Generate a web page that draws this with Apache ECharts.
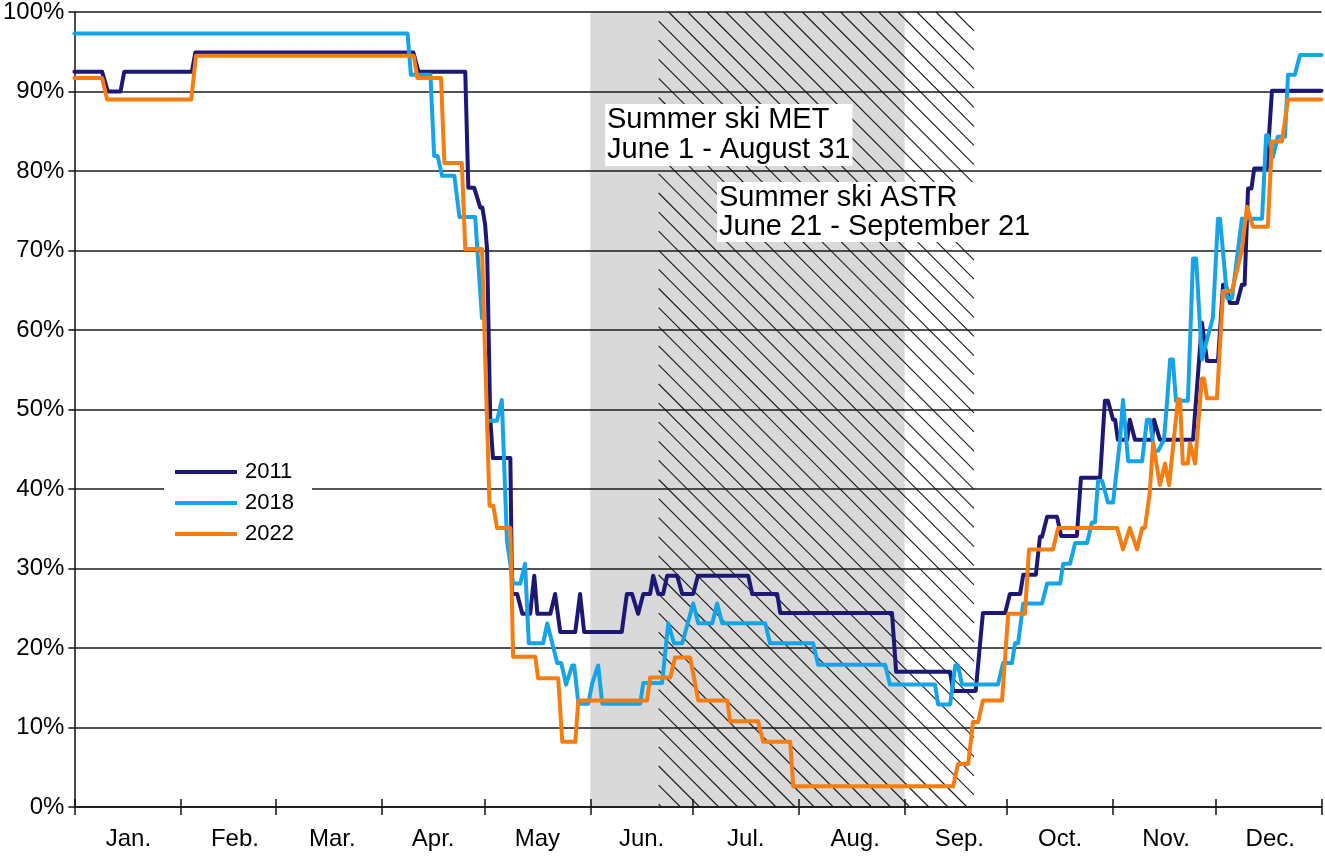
<!DOCTYPE html>
<html>
<head>
<meta charset="utf-8">
<script src="https://cdn.jsdelivr.net/npm/echarts@6/dist/echarts.min.js"></script>
<style>
html,body{margin:0;padding:0;background:#fff;}
#chart{width:1325px;height:859px;}
</style>
</head>
<body>
<div id="chart"></div>
<script>
// ---- Data ----
const months = ['Jan.','Feb.','Mar.','Apr.','May','Jun.','Jul.','Aug.','Sep.','Oct.','Nov.','Dec.'];
const monthStarts = [0,31,59,90,120,151,181,212,243,273,304,334,365];
const monthLabelDays = [15.8,47,75.5,105,135.5,166,196.5,228.5,259,288.5,319.5,350];
const seriesNames = ['2011','2018','2022'];
const bandMET = [151, 243];   // June 1 - August 31
const bandASTR = [171, 263.3]; // June 21 - September 21
const noteMET = 'Summer ski MET\nJune 1 - August 31';
const noteASTR = 'Summer ski ASTR\nJune 21 - September 21';

const s2011 = [
[0,92.5],[8.1,92.5],[9.8,90.0],[13.5,90.0],[14.6,92.5],[34.4,92.5],[35.4,94.9],[99.2,94.9],[100.7,92.5],[114.4,92.5],
[115.3,77.9],[117,77.9],[118.8,75.4],[119.4,75.4],[120.2,73.3],[120.8,70.0],[121.7,49.0],[122.5,43.9],[127.6,43.9],
[128.1,26.8],[129.6,26.8],[131.1,24.3],[133.4,24.3],[134.6,29.1],[135.5,24.3],[139.3,24.3],[140.7,26.8],[142.2,22.0],
[146.6,22.0],[148,26.8],[149.2,22.0],[160.2,22.0],[161.7,26.8],[163.2,26.8],[165,24.3],[166.5,26.8],[168.5,26.8],
[169.4,29.1],[170.9,26.8],[172.3,26.8],[173.5,29.1],[176.4,29.1],[177.9,26.8],[181.1,26.8],[182.5,29.1],[197.2,29.1],
[198.4,26.8],[205.7,26.8],[206.6,24.4],[239.3,24.4],[240.5,17.0],[256.3,17.0],[257.2,14.6],[263.8,14.6],[265.9,24.4],
[272.4,24.4],[273.8,26.8],[276.8,26.8],[277.7,29.2],[281.4,29.2],[282.6,34.0],[283.2,34.0],[284.7,36.5],[287.6,36.5],
[288.8,34.1],[293.4,34.1],[294.6,41.4],[300.2,41.4],[301.6,51.1],[302.5,51.1],[304,48.7],[304.6,48.7],[305.4,46.2],
[308.1,46.2],[308.9,48.7],[310.4,46.2],[315.4,46.2],[316,48.7],[317.7,46.2],[327.4,46.2],[330,60.9],[331.5,56.1],
[334.7,56.1],[336.2,65.7],[337,65.7],[338.2,63.4],[340.3,63.4],[341.7,65.7],[342.5,65.7],[343.5,77.8],[344.5,77.8],
[345.3,80.3],[349,80.3],[350.5,90.1],[365,90.1]
];

const s2018 = [
[0,97.3],[97.5,97.3],[98.5,92.1],[104.2,92.1],[105.3,81.9],[106.3,81.9],[107.6,79.4],[111.2,79.4],[112.7,74.2],
[117.3,74.2],[119.3,61.5],[120.5,null],[121.7,48.6],[123.7,48.6],[125.1,51.2],[125.6,51.2],[126.6,33.5],[127,33.5],
[128.4,28.1],[130.5,28.1],[131.9,30.6],[133,20.6],[137.2,20.6],[138.4,23.1],[141.3,18.1],[142.5,18.1],[143.9,15.4],
[145.7,17.8],[146.3,17.8],[147.5,13.0],[150.4,13.0],[151.6,15.6],[152.1,15.6],[153.3,17.8],[154.5,13.0],[165.6,13.0],
[166.5,15.6],[172,15.6],[173.8,23.1],[175.5,20.6],[177.9,20.6],[181.1,25.6],[182.6,23.1],[186.7,23.1],[188.1,25.6],
[189.6,23.1],[202.2,23.1],[203.6,20.6],[216.2,20.6],[217.7,17.9],[237.3,17.9],[238.7,15.4],[251.9,15.4],[252.8,12.9],
[256.3,12.9],[257.8,17.8],[258.6,17.8],[259.8,15.4],[270.3,15.4],[271.8,18.1],[274.4,18.1],[275.3,20.6],[276.2,20.6],
[277.7,25.6],[283.2,25.6],[284.7,28.1],[288.5,28.1],[289.4,30.6],[291.4,30.6],[292.9,33.2],[296.4,33.2],[297.8,35.8],
[298.7,35.8],[299.6,41.0],[300.8,41.0],[302.5,38.3],[304,38.3],[306,46.0],[306.9,51.2],[307.3,51.2],[308.4,43.5],
[312.5,43.5],[313.9,48.7],[314.8,48.7],[316,44.8],[317.2,44.8],[318.9,46.2],[319.8,51.0],[320.7,56.3],[321.5,56.3],
[322.4,51.1],[325.9,51.1],[327.4,69.0],[328.3,69.0],[330,56.3],[331.5,58.8],[333.2,61.5],[334.7,74.0],[335.3,74.0],
[337.4,64.0],[338.8,64.0],[341.7,74.0],[347.6,74.0],[348.8,84.5],[349.4,84.5],[350.8,81.8],[352.2,84.3],[354.3,84.3],
[355.2,92.1],[357.2,92.1],[358.7,94.6],[365,94.6]
];

const s2022 = [
[0,91.7],[8.1,91.7],[9.6,89.0],[34.2,89.0],[35.6,94.5],[99.3,94.5],[100.4,91.7],[107.3,91.7],[108.3,81.0],[113.4,81.0],
[114.4,70.2],[119.3,70.2],[121.5,37.9],[122.6,37.9],[123.7,35.1],[127.6,35.1],[128.4,18.9],[134.9,18.9],[135.7,16.2],
[141.6,16.2],[142.8,8.2],[146.6,8.2],[147.5,13.4],[167.6,13.4],[168.5,16.3],[174.4,16.3],[175.8,18.8],[180.2,18.8],
[182.6,13.4],[191.1,13.4],[191.9,10.8],[200.1,10.8],[201.6,8.2],[209.5,8.2],[210.4,2.6],[257.2,2.6],[258.6,5.4],
[261.6,5.4],[263,10.7],[264.5,10.7],[265.9,13.4],[271.5,13.4],[273.3,24.3],[278.2,24.3],[279.4,32.4],[286.4,32.4],
[287.9,35.1],[305.2,35.1],[306.9,32.4],[308.9,35.1],[311,32.4],[312.5,35.1],[313.3,35.1],[314.7,39.4],[315.7,45.8],
[317.7,40.5],[319.2,43.2],[320.4,40.5],[323,51.3],[323.6,51.3],[324.4,43.2],[325.9,43.2],[326.5,45.8],[328,43.2],
[328.5,43.2],[330,53.9],[330.6,53.9],[331.5,51.4],[334.4,51.4],[336.2,64.9],[338.8,64.9],[341.7,70.1],[343.2,75.5],
[344.9,73.0],[349.3,73.0],[350.5,83.7],[353.4,83.7],[355.2,89.0],[365,89.0]
];

// ---- Chart ----
const FONT = '"Liberation Sans", Arial, sans-serif';
const colors = ['#1d1873', '#16a4e8', '#f57d12'];

function renderBand(params, api) {
  const p0 = api.coord([api.value(0), 100]);
  const p1 = api.coord([api.value(1), 0]);
  return {type:'rect', shape:{x:p0[0], y:p0[1], width:p1[0]-p0[0], height:p1[1]-p0[1]},
    style:{fill:'#d9d9d9'}};
}
function renderHatch(params, api) {
  const p0 = api.coord([api.value(0), 100]);
  const p1 = api.coord([api.value(1), 0]);
  const x0=p0[0], y0=p0[1], x1=p1[0], y1=p1[1];
  const step = 19.1;
  const kStart = x0 - y0 + 10;
  const n0 = Math.floor(((x0 - y1) - kStart) / step);
  const children = [];
  for (let k = kStart + n0*step; k <= x1 - y0; k += step) {
    const ya = Math.max(y0, x0 - k), yb = Math.min(y1, x1 - k);
    if (yb > ya) children.push({type:'line', shape:{x1:ya+k, y1:ya, x2:yb+k, y2:yb},
      style:{stroke:'#1a1a1a', lineWidth:1.1}});
  }
  return {type:'group', children};
}

const chart = echarts.init(document.getElementById('chart'));
chart.setOption({
  animation:false,
  backgroundColor:'#fff',
  textStyle:{fontFamily:FONT},
  grid:{left:74, right:3.5, top:11, bottom:52, containLabel:false},
  legend:{
    orient:'vertical', left:164, top:451, padding:[10,18,10,11],
    backgroundColor:'#fff', itemWidth:62, itemHeight:4, itemGap:9, icon:'rect',
    textStyle:{fontSize:22, color:'#000', fontFamily:FONT, padding:[0,0,0,3]},
    data:seriesNames
  },
  xAxis:[{
    type:'value', min:0, max:365, position:'bottom',
    axisLine:{show:true, onZero:false, lineStyle:{color:'#111', width:1.5}},
    axisTick:{show:true, customValues:monthStarts, length:8, lineStyle:{color:'#111', width:1.5}},
    axisLabel:{customValues:monthLabelDays, fontSize:24, color:'#000', margin:20, fontFamily:FONT,
      formatter:function(v){ const i = monthLabelDays.indexOf(v); return i>=0 ? months[i] : ''; }},
    splitLine:{show:false}
  },{
    type:'value', min:0, max:365, position:'bottom',
    axisLine:{show:false, onZero:false},
    axisTick:{show:true, inside:true, customValues:monthStarts, length:8, lineStyle:{color:'#111', width:1.5}},
    axisLabel:{show:false},
    splitLine:{show:false}
  }],
  yAxis:{
    type:'value', min:0, max:100, interval:10,
    axisLine:{show:true, lineStyle:{color:'#111', width:1.5}},
    axisTick:{show:true, length:6, lineStyle:{color:'#111', width:1.5}},
    axisLabel:{formatter:'{value}%', fontSize:24, color:'#000', margin:10, fontFamily:FONT},
    splitLine:{show:true, lineStyle:{color:'#1a1a1a', width:1.5}}
  },
  graphic:[
    {type:'text', left:605, top:104, z:100, style:{text:noteMET, font:'29px '+FONT, lineHeight:30,
      fill:'#000', backgroundColor:'#fff', padding:[1,2,1,2]}},
    {type:'text', left:717, top:182, z:100, style:{text:noteASTR, font:'29px '+FONT, lineHeight:29,
      fill:'#000', backgroundColor:'#fff', padding:[1,2,1,2]}}
  ],
  series:[
    {type:'custom', name:'MET', z:-2, renderItem:renderBand, encode:{x:[0,1]}, data:[bandMET], silent:true},
    {type:'custom', name:'ASTR', z:-1, renderItem:renderHatch, encode:{x:[0,1]}, data:[bandASTR], silent:true},
    {type:'line', name:'2011', data:s2011, showSymbol:false, symbol:'none', connectNulls:false,
      lineStyle:{color:colors[0], width:4, join:'round', cap:'round'}, itemStyle:{color:colors[0]}},
    {type:'line', name:'2018', data:s2018, showSymbol:false, symbol:'none', connectNulls:false,
      lineStyle:{color:colors[1], width:4, join:'round', cap:'round'}, itemStyle:{color:colors[1]}},
    {type:'line', name:'2022', data:s2022, showSymbol:false, symbol:'none', connectNulls:false,
      lineStyle:{color:colors[2], width:4, join:'round', cap:'round'}, itemStyle:{color:colors[2]}}
  ]
});
</script>
</body>
</html>
